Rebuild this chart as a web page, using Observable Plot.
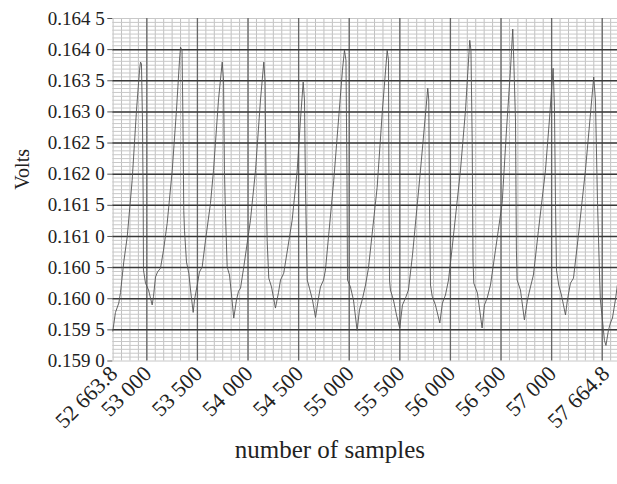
<!DOCTYPE html>
<html>
<head>
<meta charset="utf-8">
<script src="https://cdn.jsdelivr.net/npm/d3@7"></script>
<script src="https://cdn.jsdelivr.net/npm/@observablehq/plot@0.6"></script>
<style>
  html, body { margin: 0; padding: 0; background: #fff; }
  #chart { width: 617px; height: 484px; }
</style>
</head>
<body>
<div id="chart"></div>
<script>
// Sample index (x) and voltage (y)
const sampleNumber = [
  52664, 52690, 52723, 52740, 52772, 52806, 52855, 52898, 52928, 52938,
  52947, 52957, 52964, 52967, 52987, 53017, 53053, 53066, 53086, 53106, 53135, 53165, 53201, 53251, 53293, 53323, 53333,
  53348, 53357, 53365, 53372, 53392, 53415, 53432, 53458, 53471, 53498, 53520, 53547, 53580, 53629, 53659, 53708, 53745,
  53758, 53767, 53777, 53794, 53817, 53837, 53859, 53886, 53906, 53926, 53958, 54024, 54074, 54123, 54156,
  54168, 54178, 54189, 54205, 54232, 54271, 54301, 54321, 54353, 54436, 54486, 54518, 54545,
  54558, 54568, 54585, 54607, 54637, 54667, 54696, 54716, 54746, 54765, 54847, 54894, 54933, 54953,
  54968, 54978, 54983, 55012, 55042, 55078, 55101, 55128, 55161, 55190, 55276, 55328, 55375,
  55388, 55393, 55398, 55407, 55437, 55467, 55499, 55526, 55556, 55585, 55625, 55704, 55744, 55776,
  55786, 55793, 55803, 55820, 55852, 55895, 55921, 55951, 55981, 56020, 56099, 56149, 56191,
  56203, 56215, 56223, 56231, 56267, 56313, 56336, 56363, 56396, 56445, 56511, 56554, 56593, 56616,
  56626, 56643, 56652, 56659, 56692, 56731, 56761, 56791, 56820, 56870, 56939, 56978, 57015,
  57028, 57038, 57048, 57070, 57097, 57137, 57156, 57186, 57216, 57265, 57334, 57374, 57416,
  57433, 57453, 57472, 57482, 57502, 57522, 57537, 57561, 57581, 57601, 57630, 57650, 57664
];
const volts = [
  0.15948, 0.15978, 0.15993, 0.16010, 0.16059, 0.16099, 0.16190, 0.16303, 0.16367, 0.16380,
  0.16377, 0.16287, 0.16158, 0.16046, 0.16025, 0.16014, 0.15990, 0.16004, 0.16035, 0.16043, 0.16049, 0.16078, 0.16121, 0.16206, 0.16303, 0.16383, 0.16404,
  0.16399, 0.16287, 0.16142, 0.16110, 0.16059, 0.16041, 0.16014, 0.15978, 0.15998, 0.16022, 0.16043, 0.16051, 0.16094, 0.16153, 0.16206, 0.16319, 0.16380,
  0.16351, 0.16206, 0.16137, 0.16051, 0.16038, 0.16006, 0.15969, 0.15998, 0.16012, 0.16017, 0.16051, 0.16126, 0.16206, 0.16319, 0.16380,
  0.16351, 0.16190, 0.16094, 0.16033, 0.16019, 0.15985, 0.16010, 0.16030, 0.16041, 0.16126, 0.16206, 0.16287, 0.16348,
  0.16319, 0.16174, 0.16030, 0.16017, 0.15998, 0.15970, 0.16001, 0.16019, 0.16030, 0.16046, 0.16190, 0.16287, 0.16367, 0.16399,
  0.16383, 0.16190, 0.16030, 0.16019, 0.15998, 0.15949, 0.15982, 0.15998, 0.16022, 0.16049, 0.16179, 0.16303, 0.16399,
  0.16383, 0.16158, 0.16030, 0.16014, 0.15998, 0.15974, 0.15953, 0.15990, 0.16001, 0.16014, 0.16070, 0.16206, 0.16279, 0.16338,
  0.16319, 0.16158, 0.16022, 0.16004, 0.15990, 0.15961, 0.15993, 0.16006, 0.16030, 0.16086, 0.16206, 0.16303, 0.16415,
  0.16399, 0.16255, 0.16062, 0.16025, 0.16009, 0.15953, 0.15990, 0.16001, 0.16022, 0.16078, 0.16153, 0.16271, 0.16367, 0.16433,
  0.16383, 0.16287, 0.16078, 0.16030, 0.16014, 0.15966, 0.15998, 0.16019, 0.16038, 0.16110, 0.16206, 0.16287, 0.16370,
  0.16308, 0.16158, 0.16046, 0.16022, 0.16006, 0.15974, 0.15998, 0.16025, 0.16033, 0.16102, 0.16206, 0.16279, 0.16356,
  0.16319, 0.16158, 0.16046, 0.15998, 0.15966, 0.15933, 0.15925, 0.15949, 0.15961, 0.15969, 0.15998, 0.16022, 0.16033
];

// Axis tick values
const xTickValues = [52663.8, 53000, 53500, 54000, 54500, 55000, 55500, 56000, 56500, 57000];
const xLastTick = [57664.8];
const yTickValues = [0.1590, 0.1595, 0.1600, 0.1605, 0.1610, 0.1615, 0.1620, 0.1625, 0.1630, 0.1635, 0.1640, 0.1645];
const xDomain = [52663.8, 57664.8];
const yDomain = [0.1590, 0.1645];

const data = sampleNumber.map((s, i) => ({s, v: volts[i]}));

// Grid lines (graph-paper style)
const majorX = d3.range(53000, 57501, 500);
const minorX = d3.range(-4, 60).map(i => 53000 + i * 500 / 6).filter(v => v > xDomain[0] && v < xDomain[1]);
const majorY = d3.range(1, 11).map(i => +(0.159 + i * 0.0005).toFixed(4));
const minorY = d3.range(0, 89).map(i => 0.159 + i * 0.0005 / 8);

const fmtY = d => { const s = d.toFixed(4); return s.slice(0, 5) + " " + s.slice(5); };
const fmtX = d => {
  const [ip, fp] = String(d).split(".");
  const withSep = ip.replace(/\B(?=(\d{3})+(?!\d))/g, " ");
  return fp ? withSep + "." + fp : withSep;
};

const chart = Plot.plot({
  width: 617,
  height: 484,
  marginTop: 18,
  marginBottom: 123.5,
  marginLeft: 112.3,
  marginRight: -1.4,
  style: {fontFamily: "'Liberation Serif', 'DejaVu Serif', serif", fontSize: "19px", color: "#222", background: "#fff"},
  x: {domain: xDomain},
  y: {domain: yDomain},
  marks: [
    Plot.ruleX(minorX, {stroke: "#c0c0c0", strokeWidth: 1}),
    Plot.ruleY(minorY, {stroke: "#c8c8c8", strokeWidth: 1}),
    Plot.ruleX(majorX, {stroke: "#666", strokeWidth: 1.3}),
    Plot.ruleY(majorY, {stroke: "#3a3a3a", strokeWidth: 1.5}),
    Plot.line(data, {x: "s", y: "v", stroke: "#555", strokeWidth: 0.9}),
    Plot.axisY({ticks: yTickValues, tickFormat: fmtY, tickSize: 5, tickPadding: 3, label: null, stroke: "#555", fontSize: 19}),
    Plot.axisX({ticks: xTickValues, tickFormat: fmtX, tickRotate: -45, tickSize: 0, tickPadding: 9, dx: 1, label: null, fontSize: 22}),
    Plot.axisX({ticks: xLastTick, tickFormat: fmtX, tickRotate: -45, tickSize: 0, tickPadding: 9, dx: -13, label: null, fontSize: 22}),
    Plot.text(["Volts"], {frameAnchor: "left", dx: -90, rotate: -90, fontSize: 20, fill: "#222"}),
    Plot.text(["number of samples"], {frameAnchor: "bottom", dx: -36, dy: 97, fontSize: 25, fill: "#222"})
  ]
});
document.getElementById("chart").appendChild(chart);
</script>
</body>
</html>
